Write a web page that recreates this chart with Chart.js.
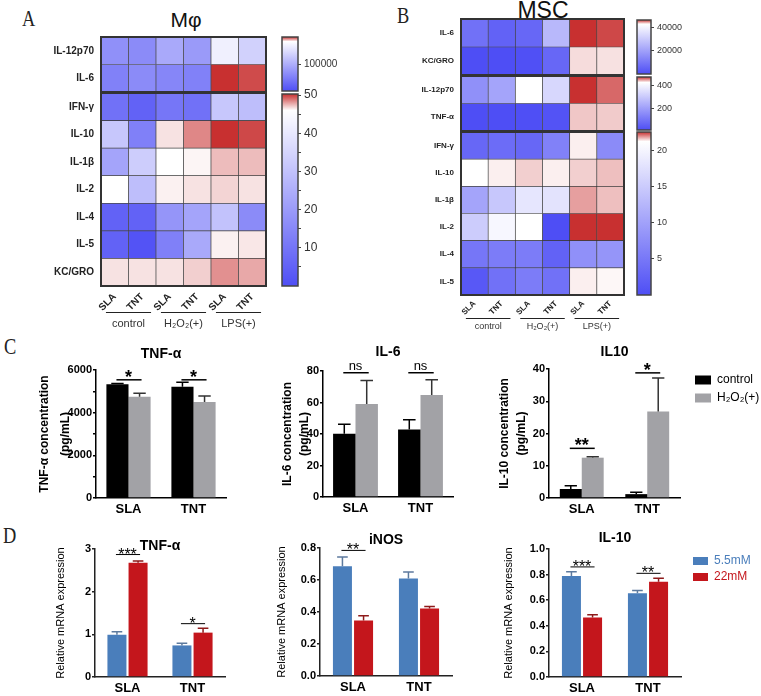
<!DOCTYPE html>
<html lang="en">
<head>
<meta charset="UTF-8">
<title>Cytokine heatmaps and expression</title>
<script src="https://cdn.jsdelivr.net/npm/chart.js"></script>
<style>
  body { margin: 0; background: #fff; font-family: "Liberation Sans", Arial, sans-serif; }
  #page { position: relative; width: 761px; height: 696px; overflow: hidden; background: #fff; }
  canvas { position: absolute; }
  .letter { position: absolute; font-family: "Liberation Serif", "DejaVu Serif", serif; font-size: 23px; color: #222; transform: scaleX(0.8); transform-origin: left top; line-height: 1; }
  .big { position: absolute; width: 100px; text-align: center; color: #111; line-height: 24px; }
</style>
</head>
<body>
<div id="page">
  <div class="letter" style="left:22px;top:7px">A</div>
  <div class="letter" style="left:397px;top:4px">B</div>
  <div class="letter" style="left:4px;top:335px">C</div>
  <div class="letter" style="left:3px;top:524px">D</div>
  <div class="big" style="left:136px;top:8px;font-size:21px">Mφ</div>
  <div class="big" style="left:493px;top:-2px;font-size:23px">MSC</div>

  <canvas id="heatA1"></canvas><canvas id="heatA2"></canvas>
  <canvas id="cbA1"></canvas><canvas id="cbA2"></canvas>
  <canvas id="heatB1"></canvas><canvas id="heatB2"></canvas><canvas id="heatB3"></canvas>
  <canvas id="cbB1"></canvas><canvas id="cbB2"></canvas><canvas id="cbB3"></canvas>
  <canvas id="barC1"></canvas><canvas id="barC2"></canvas><canvas id="barC3"></canvas><canvas id="legC"></canvas>
  <canvas id="barD1"></canvas><canvas id="barD2"></canvas><canvas id="barD3"></canvas><canvas id="legD"></canvas>
</div>
<script>
// ---- heatmap data ----
const columns = ['SLA', 'TNT', 'SLA', 'TNT', 'SLA', 'TNT'];
const groups = ['control', 'H₂O₂(+)', 'LPS(+)'];

const macTopRows = ['IL-12p70', 'IL-6'];
const macTopVals = [
  [80900, 77700, 96600, 87100, 140600, 121700],
  [71400, 77700, 74600, 71400, 160000, 158700]
];
const macRows = ['IFN-γ', 'IL-10', 'IL-1β', 'IL-2', 'IL-4', 'IL-5', 'KC/GRO'];
const macVals = [
  [9.2, 5.3, 10.5, 9.2, 31.5, 29.0],
  [31.5, 13.0, 46.6, 48.5, 50.3, 49.8],
  [22.3, 32.9, 46.0, 46.2, 47.4, 47.4],
  [46.0, 29.0, 46.3, 46.6, 46.9, 46.6],
  [5.3, 5.3, 18.4, 22.3, 30.2, 15.8],
  [5.3, 1.3, 13.1, 23.7, 46.3, 46.5],
  [46.6, 46.6, 46.6, 47.0, 48.3, 47.8]
];

const mscTopRows = ['IL-6', 'KC/GRO'];
const mscTopVals = [
  [8600, 4900, 6100, 25800, 46500, 46100],
  [0, 0, 600, 6100, 43600, 43500]
];
const mscMidRows = ['IL-12p70', 'TNF-α'];
const mscMidVals = [
  [166, 214, 430, 334, 478, 465],
  [10, 10, 12, 22, 443, 442]
];
const mscRows = ['IFN-γ', 'IL-10', 'IL-1β', 'IL-2', 'IL-4', 'IL-5'];
const mscVals = [
  [3.0, 3.6, 3.0, 6.1, 21.3, 7.3],
  [21.2, 21.3, 21.5, 21.3, 21.5, 21.6],
  [10.3, 14.5, 18.2, 17.9, 21.8, 21.6],
  [15.1, 20.3, 21.2, 0.0, 22.5, 22.5],
  [4.8, 5.5, 5.5, 2.4, 7.9, 8.5],
  [1.2, 4.2, 5.5, 4.2, 21.3, 21.25]
];

// colour scale ranges (low, white point, high)
const macTopScale = { lo: 40000, mid: 150000, hi: 160000 };
const macScale = { lo: 0, mid: 46, hi: 50.3 };
const mscTopScale = { lo: 0, mid: 43000, hi: 46500 };
const mscMidScale = { lo: 10, mid: 430, hi: 478 };
const mscScale = { lo: 0, mid: 21.2, hi: 22.5 };

// ---- bar data ----
const sites = ['SLA', 'TNT'];
const cSeries = ['control', 'H₂O₂(+)'];
const dSeries = ['5.5mM', '22mM'];

const tnfCtrl = [5336, 5210], tnfCtrlSd = [35, 220];
const tnfH2o2 = [4743, 4495], tnfH2o2Sd = [173, 281];
const il6Ctrl = [40.1, 42.9], il6CtrlSd = [6.1, 6.1];
const il6H2o2 = [59.0, 64.7], il6H2o2Sd = [15.0, 9.7];
const il10Ctrl = [2.8, 1.2], il10CtrlSd = [1.0, 0.6];
const il10H2o2 = [12.5, 26.8], il10H2o2Sd = [0.3, 10.4];

const tnfLow = [0.99, 0.74], tnfLowSd = [0.07, 0.05];
const tnfHigh = [2.68, 1.04], tnfHighSd = [0.04, 0.10];
const inosLow = [0.686, 0.609], inosLowSd = [0.058, 0.041];
const inosHigh = [0.347, 0.422], inosHighSd = [0.029, 0.012];
const il10Low = [0.79, 0.655], il10LowSd = [0.033, 0.02];
const il10High = [0.465, 0.745], il10HighSd = [0.021, 0.027];

const tnfCSig = [{ cat: 0, at: 5540, text: '*' }, { cat: 1, at: 5540, text: '*' }];
const il6CSig = [{ cat: 0, at: 78.9, text: 'ns' }, { cat: 1, at: 78.9, text: 'ns' }];
const il10CSig = [{ cat: 0, at: 15.4, text: '**' }, { cat: 1, at: 38.8, text: '*' }];
const tnfDSig = [{ cat: 0, at: 2.87, text: '***' }, { cat: 1, at: 1.25, text: '*' }];
const inosDSig = [{ cat: 0, at: 0.785, text: '**' }];
const il10DSig = [{ cat: 0, at: 0.86, text: '***' }, { cat: 1, at: 0.81, text: '**' }];

Chart.defaults.font.family = '"Liberation Sans", Arial, Helvetica, sans-serif';
Chart.defaults.color = '#111';

const BLUE = [78, 78, 245], WHITE = [255, 255, 255], RED = [200, 48, 48];
function mix(a, b, t) { return a.map((v, i) => Math.round(v + (b[i] - v) * t)); }
function heatColor(v, sc) {
  const c = v <= sc.mid
    ? mix(BLUE, WHITE, Math.max(0, (v - sc.lo) / (sc.mid - sc.lo)))
    : mix(WHITE, RED, Math.min(1, (v - sc.mid) / (sc.hi - sc.mid)));
  return 'rgb(' + c.join(',') + ')';
}

function place(id, left, top, w, h) {
  const cv = document.getElementById(id);
  cv.width = w; cv.height = h;
  cv.style.left = left + 'px'; cv.style.top = top + 'px';
  cv.style.width = w + 'px'; cv.style.height = h + 'px';
  return cv;
}

// outline round the plot area
const frame = {
  id: 'frame',
  afterDatasetsDraw(chart, args, o) {
    const a = chart.chartArea, ctx = chart.ctx;
    ctx.save();
    ctx.strokeStyle = o.color; ctx.lineWidth = o.width;
    ctx.strokeRect(a.left, a.top, a.right - a.left, a.bottom - a.top);
    ctx.restore();
  }
};

// short rules above the group names
const groupLines = {
  id: 'groupLines',
  afterDraw(chart) {
    const g = chart.scales.g;
    if (!g) return;
    const ctx = chart.ctx, step = g.getPixelForTick(1) - g.getPixelForTick(0);
    ctx.save();
    ctx.strokeStyle = '#222'; ctx.lineWidth = 1;
    g.ticks.forEach((t, i) => {
      const x = g.getPixelForTick(i);
      ctx.beginPath();
      ctx.moveTo(x - step * 0.41, g.top + 1.5);
      ctx.lineTo(x + step * 0.41, g.top + 1.5);
      ctx.stroke();
    });
    ctx.restore();
  }
};

const errorBars = {
  id: 'errorBars',
  afterDatasetsDraw(chart) {
    const ctx = chart.ctx, y = chart.scales.y;
    chart.data.datasets.forEach((ds, i) => {
      if (!ds.sd) return;
      chart.getDatasetMeta(i).data.forEach((bar, j) => {
        const top = y.getPixelForValue(ds.data[j] + ds.sd[j]);
        const cap = bar.width * 0.28;
        ctx.save();
        ctx.strokeStyle = ds.errColor; ctx.lineWidth = 1.5;
        ctx.beginPath();
        ctx.moveTo(bar.x, bar.y); ctx.lineTo(bar.x, top);
        ctx.moveTo(bar.x - cap, top); ctx.lineTo(bar.x + cap, top);
        ctx.stroke();
        ctx.restore();
      });
    });
  }
};

const sig = {
  id: 'sig',
  afterDatasetsDraw(chart, args, o) {
    const ctx = chart.ctx, y = chart.scales.y;
    const a = chart.getDatasetMeta(0).data, b = chart.getDatasetMeta(1).data;
    o.marks.forEach(m => {
      const x1 = a[m.cat].x, x2 = b[m.cat].x, yy = y.getPixelForValue(m.at);
      const ns = m.text === 'ns';
      ctx.save();
      ctx.strokeStyle = '#000'; ctx.lineWidth = o.lineWidth;
      ctx.beginPath(); ctx.moveTo(x1 - 1, yy); ctx.lineTo(x2 + 2, yy); ctx.stroke();
      ctx.fillStyle = '#000'; ctx.textAlign = 'center'; ctx.textBaseline = 'alphabetic';
      ctx.font = ns ? o.nsFont : o.font;
      ctx.fillText(m.text, (x1 + x2) / 2, yy + (ns ? o.nsDy : o.dy));
      ctx.restore();
    });
  }
};

function heatmap(id, rows, vals, sc, b, o) {
  const pad = 16;
  const left = b.L - o.yw - 2, top = b.T - pad;
  const extra = o.showX ? o.xh + o.gh + 3 : pad;
  const cv = place(id, left, top, b.R - left + 3, b.B - top + extra);
  const n = rows.length;
  const datasets = rows.map((r, i) => ({
    label: r,
    data: columns.map(() => 1),
    backgroundColor: vals[i].map(v => heatColor(v, sc)),
    borderColor: 'rgba(40,40,40,0.8)',
    borderWidth: 0.7,
    borderSkipped: false,
    barPercentage: 1,
    categoryPercentage: 1
  })).reverse();
  const scales = {
    x: {
      stacked: true, display: o.showX,
      grid: { display: false, drawTicks: false }, border: { display: false },
      ticks: { autoSkip: false, minRotation: 45, maxRotation: 45, padding: o.xPad || 0,
               font: { size: o.colFont, weight: 'bold' }, color: '#222' },
      afterFit: s => { if (o.showX) s.height = o.xh; }
    },
    y: {
      stacked: true, min: 0, max: n,
      grid: { display: false, drawTicks: false }, border: { display: false },
      afterBuildTicks: s => { s.ticks = rows.map((r, i) => ({ value: n - i - 0.5 })); },
      ticks: { autoSkip: false, padding: 7, color: '#222',
               font: { size: o.rowFont, weight: 'bold' },
               callback: v => rows[Math.round(n - 0.5 - v)] },
      afterFit: s => { s.width = o.yw; }
    }
  };
  if (o.showX) {
    scales.g = {
      type: 'category', labels: groups, position: 'bottom', weight: 1, offset: true,
      grid: { display: false, drawTicks: false }, border: { display: false },
      ticks: { autoSkip: false, maxRotation: 0, padding: o.gPad, color: '#333', font: { size: o.groupFont } },
      afterFit: s => { s.height = o.gh; }
    };
  }
  new Chart(cv, {
    type: 'bar',
    data: { labels: columns, datasets },
    options: {
      responsive: false, animation: false,
      layout: { padding: { left: 2, top: pad, right: 3, bottom: o.showX ? 3 : pad } },
      scales,
      plugins: { legend: { display: false }, tooltip: { enabled: false }, frame: { width: 2, color: '#333' } }
    },
    plugins: [frame, groupLines]
  });
}

function colorbar(id, sc, b, tickVals, labelVals, fontSize) {
  const rw = 55, pad = 14;
  const cv = place(id, b.L - 3, b.T - pad, b.R - b.L + 3 + rw, b.B - b.T + 2 * pad);
  new Chart(cv, {
    type: 'bar',
    data: {
      labels: [''],
      datasets: [{
        data: [[sc.lo, sc.hi]],
        barPercentage: 1, categoryPercentage: 1, borderWidth: 0,
        backgroundColor: c => {
          const ch = c.chart, y = ch.scales.y;
          if (!ch.chartArea || !y) return '#88f';
          const g = ch.ctx.createLinearGradient(0, y.getPixelForValue(sc.lo), 0, y.getPixelForValue(sc.hi));
          g.addColorStop(0, heatColor(sc.lo, sc));
          g.addColorStop((sc.mid - sc.lo) / (sc.hi - sc.lo), heatColor(sc.mid, sc));
          g.addColorStop(1, heatColor(sc.hi, sc));
          return g;
        }
      }]
    },
    options: {
      responsive: false, animation: false,
      layout: { padding: { left: 3, top: pad, bottom: pad, right: 0 } },
      scales: {
        x: { display: false },
        y: {
          position: 'right', min: sc.lo, max: sc.hi,
          afterBuildTicks: s => { s.ticks = tickVals.map(v => ({ value: v })); },
          ticks: { autoSkip: false, padding: 3, color: '#333', font: { size: fontSize },
                   callback: v => labelVals.includes(v) ? String(v) : '' },
          grid: { drawOnChartArea: false, drawTicks: true, tickLength: 3, color: '#444' },
          border: { display: false },
          afterFit: s => { s.width = rw; }
        }
      },
      plugins: { legend: { display: false }, tooltip: { enabled: false }, frame: { width: 1.5, color: '#444' } }
    },
    plugins: [frame]
  });
}

function barPanel(id, b, s) {
  const padR = 6;
  const left = b.L - b.yw - 4, top = b.T - b.top;
  const cv = place(id, left, top, b.R - left + padR, b.B + b.xh - top);
  const tPad = b.titleY - 8.4 - top;
  new Chart(cv, {
    type: 'bar',
    data: {
      labels: sites,
      datasets: s.series.map((name, i) => ({
        label: name, data: s.values[i], sd: s.sds[i],
        backgroundColor: s.colors[i], errColor: s.errColors[i],
        borderWidth: 0, categoryPercentage: s.catPct, barPercentage: s.barPct
      }))
    },
    options: {
      responsive: false, animation: false,
      layout: { padding: { left: 4, right: padR, top: 0, bottom: 0 } },
      scales: {
        x: {
          grid: { display: false, drawTicks: false },
          border: { display: true, color: s.axisColor, width: 1.5 },
          ticks: { padding: 4, color: '#000', font: { size: 13, weight: 'bold' } },
          afterFit: sc => { sc.height = b.xh; }
        },
        y: {
          min: 0, max: s.max,
          ticks: { stepSize: s.step, padding: 1, color: '#000', font: { size: 11, weight: 'bold' },
                   callback: s.tickFmt },
          grid: { drawOnChartArea: false, drawTicks: true, tickLength: 3, color: s.axisColor, lineWidth: 1.5 },
          border: { display: true, color: s.axisColor, width: 1.5 },
          title: { display: true, text: s.yTitle, color: '#000', font: s.yFont,
                   padding: { top: s.yPad, bottom: 0 } },
          afterFit: sc => { sc.width = b.yw; }
        }
      },
      plugins: {
        legend: { display: false }, tooltip: { enabled: false },
        title: { display: true, text: s.title, fullSize: false, color: '#000',
                 font: { size: 14, weight: 'bold' },
                 padding: { top: tPad, bottom: b.top - tPad - 16.8 } },
        sig: s.sig
      }
    },
    plugins: [errorBars, sig]
  });
}

function legendChart(id, left, top, names, colors, o) {
  const w = 761 - left;
  const cv = place(id, left, top, w, 50);
  new Chart(cv, {
    type: 'bar',
    data: { labels: [], datasets: names.map((n, i) => ({ label: n, data: [], backgroundColor: colors[i], borderWidth: 0 })) },
    options: {
      responsive: false, animation: false,
      layout: { padding: 0 },
      scales: { x: { display: false }, y: { display: false } },
      plugins: {
        tooltip: { enabled: false },
        legend: {
          display: true, position: 'left', align: 'start', maxWidth: w,
          labels: {
            boxWidth: o.bw, boxHeight: o.bh, padding: o.pad, font: { size: 12 }, color: '#000',
            generateLabels: ch => Chart.defaults.plugins.legend.labels.generateLabels(ch)
              .map((it, i) => Object.assign(it, { fontColor: o.textColors[i], lineWidth: 0 }))
          }
        }
      }
    }
  });
}

// ---- panel A ----
heatmap('heatA1', macTopRows, macTopVals, macTopScale, { L: 101, T: 37, R: 266, B: 92 },
  { yw: 62, rowFont: 10, colFont: 10, showX: false });
heatmap('heatA2', macRows, macVals, macScale, { L: 101, T: 93, R: 266, B: 286 },
  { yw: 62, rowFont: 10, colFont: 10, groupFont: 11, showX: true, xh: 25, gh: 20, xPad: 5, gPad: 6 });
colorbar('cbA1', macTopScale, { L: 282, R: 298, T: 37, B: 91 }, [100000], [100000], 10);
colorbar('cbA2', macScale, { L: 282, R: 298, T: 94, B: 286 },
  [5, 10, 15, 20, 25, 30, 35, 40, 45, 50], [10, 20, 30, 40, 50], 12);

// ---- panel B ----
heatmap('heatB1', mscTopRows, mscTopVals, mscTopScale, { L: 461, T: 19, R: 624, B: 75 },
  { yw: 55, rowFont: 8, colFont: 8, showX: false });
heatmap('heatB2', mscMidRows, mscMidVals, mscMidScale, { L: 461, T: 76, R: 624, B: 131 },
  { yw: 55, rowFont: 8, colFont: 8, showX: false });
heatmap('heatB3', mscRows, mscVals, mscScale, { L: 461, T: 132, R: 624, B: 295 },
  { yw: 55, rowFont: 8, colFont: 8, groupFont: 9, showX: true, xh: 22, gh: 16, xPad: 4, gPad: 4 });
colorbar('cbB1', mscTopScale, { L: 637, R: 651, T: 20, B: 74 }, [20000, 40000], [20000, 40000], 9);
colorbar('cbB2', mscMidScale, { L: 637, R: 651, T: 77, B: 130 }, [200, 400], [200, 400], 9);
colorbar('cbB3', mscScale, { L: 637, R: 651, T: 132, B: 295 }, [5, 10, 15, 20], [5, 10, 15, 20], 9);

// ---- panel C ----
const cColors = ['#000000', '#a2a2a6'];
const cErr = ['#000000', '#333333'];
const cSigStyle = { lineWidth: 1.5, font: 'bold 18px "Liberation Sans", Arial', dy: 3,
                    nsFont: '13px "Liberation Sans", Arial', nsDy: -3 };
barPanel('barC1', { L: 96, R: 226, T: 370, B: 498, yw: 62, top: 34, xh: 22, titleY: 354 }, {
  series: cSeries, values: [tnfCtrl, tnfH2o2], sds: [tnfCtrlSd, tnfH2o2Sd],
  colors: cColors, errColors: cErr, catPct: 0.68, barPct: 1, axisColor: '#000',
  max: 6000, step: 1000, tickFmt: v => v % 2000 === 0 ? String(v) : '',
  title: 'TNF-α', yTitle: ['TNF-α concentration', '(pg/mL)'],
  yFont: { size: 12, weight: 'bold', lineHeight: 1.75 }, yPad: 0,
  sig: Object.assign({ marks: tnfCSig }, cSigStyle)
});
barPanel('barC2', { L: 323, R: 453, T: 371, B: 497, yw: 44, top: 35, xh: 22, titleY: 352 }, {
  series: cSeries, values: [il6Ctrl, il6H2o2], sds: [il6CtrlSd, il6H2o2Sd],
  colors: cColors, errColors: cErr, catPct: 0.69, barPct: 1, axisColor: '#000',
  max: 80, step: 10, tickFmt: v => v % 20 === 0 ? String(v) : '',
  title: 'IL-6', yTitle: ['IL-6 concentration', '(pg/mL)'],
  yFont: { size: 12, weight: 'bold', lineHeight: 1.35 }, yPad: 1,
  sig: Object.assign({ marks: il6CSig }, cSigStyle)
});
barPanel('barC3', { L: 549, R: 680, T: 369, B: 498, yw: 52, top: 33, xh: 22, titleY: 352 }, {
  series: cSeries, values: [il10Ctrl, il10H2o2], sds: [il10CtrlSd, il10H2o2Sd],
  colors: cColors, errColors: cErr, catPct: 0.67, barPct: 1, axisColor: '#000',
  max: 40, step: 5, tickFmt: v => v % 10 === 0 ? String(v) : '',
  title: 'IL10', yTitle: ['IL-10 concentration', '(pg/mL)'],
  yFont: { size: 12, weight: 'bold', lineHeight: 1.35 }, yPad: 0,
  sig: Object.assign({ marks: il10CSig }, cSigStyle)
});
legendChart('legC', 689, 368, cSeries, cColors, { bw: 16, bh: 9, pad: 6, textColors: ['#000', '#000'] });

// ---- panel D ----
const dColors = ['#4a7ebb', '#c4161c'];
const dErr = ['#5d7a9e', '#8e1a1a'];
const dSigStyle = { lineWidth: 1, font: '16px "Liberation Sans", Arial', dy: 5,
                    nsFont: '13px "Liberation Sans", Arial', nsDy: -3 };
const dTitleFont = { size: 11, lineHeight: 1.2 };
barPanel('barD1', { L: 95, R: 225, T: 549, B: 677, yw: 42, top: 20, xh: 20, titleY: 546 }, {
  series: dSeries, values: [tnfLow, tnfHigh], sds: [tnfLowSd, tnfHighSd],
  colors: dColors, errColors: dErr, catPct: 0.65, barPct: 0.9, axisColor: '#222',
  max: 3, step: 1, tickFmt: v => String(v),
  title: 'TNF-α', yTitle: 'Relative mRNA expression', yFont: dTitleFont, yPad: 1.4,
  sig: Object.assign({ marks: tnfDSig }, dSigStyle)
});
barPanel('barD2', { L: 320, R: 452, T: 548, B: 676, yw: 46, top: 20, xh: 20, titleY: 540 }, {
  series: dSeries, values: [inosLow, inosHigh], sds: [inosLowSd, inosHighSd],
  colors: dColors, errColors: dErr, catPct: 0.64, barPct: 0.9, axisColor: '#222',
  max: 0.8, step: 0.2, tickFmt: v => v.toFixed(1),
  title: 'iNOS', yTitle: 'Relative mRNA expression', yFont: dTitleFont, yPad: 1.4,
  sig: Object.assign({ marks: inosDSig }, dSigStyle)
});
barPanel('barD3', { L: 549, R: 681, T: 549, B: 677, yw: 48, top: 20, xh: 20, titleY: 538 }, {
  series: dSeries, values: [il10Low, il10High], sds: [il10LowSd, il10HighSd],
  colors: dColors, errColors: dErr, catPct: 0.64, barPct: 0.9, axisColor: '#222',
  max: 1.0, step: 0.2, tickFmt: v => v.toFixed(1),
  title: 'IL-10', yTitle: 'Relative mRNA expression', yFont: dTitleFont, yPad: 1.4,
  sig: Object.assign({ marks: il10DSig }, dSigStyle)
});
legendChart('legD', 689, 551, dSeries, dColors, { bw: 15, bh: 8, pad: 4, textColors: dColors });
</script>
</body>
</html>
